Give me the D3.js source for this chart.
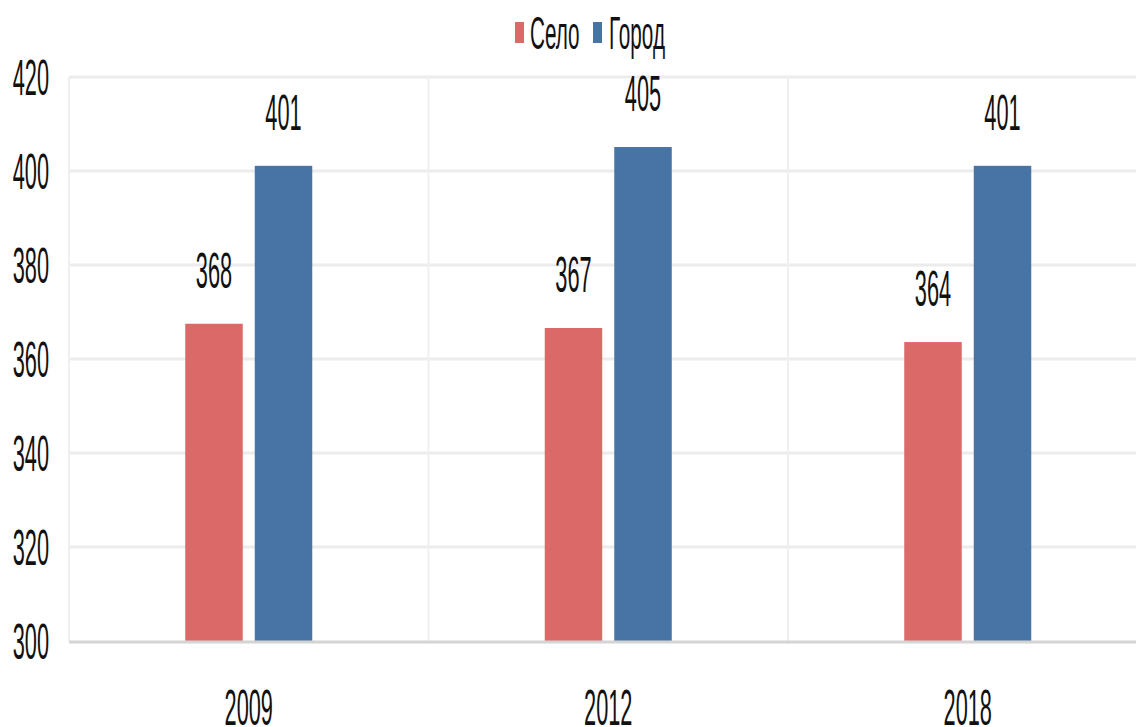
<!DOCTYPE html>
<html><head><meta charset="utf-8">
<script src="https://cdn.jsdelivr.net/npm/d3@7/dist/d3.min.js"></script>
<style>html,body{margin:0;padding:0;background:#fff;overflow:hidden}</style>
</head><body>
<svg id="c" width="1136" height="727"></svg>
<script>
const categories = ["2009", "2012", "2018"];
const seriesNames = ["Село", "Город"];
const seloValues = [367.5, 366.6, 363.6];
const gorodValues = [401.1, 405.1, 401.1];
const yTicks = [300, 320, 340, 360, 380, 400, 420];
const colors = ["#da6968", "#4873a5"];

const svg = d3.select("#c");
const SX = 0.435, FS = 50;
const fmt = d3.format(".0f");
const x0 = d3.scaleBand().domain(categories).range([69, 69 + 3 * 359.5]).padding(0);
const x1 = d3.scaleBand().domain(seriesNames).range([-63.5, 63.5]).paddingInner(0.173);
const y = d3.scaleLinear().domain([300, 420]).range([641, 77]);

function txt(g, x, yy, s, anchor, fs, sx) {
  g.append("text").attr("transform", `translate(${x},${yy}) scale(${sx || SX},1)`)
    .attr("text-anchor", anchor)
    .attr("font-family", "Liberation Sans, Arial, sans-serif")
    .attr("font-size", fs || FS).attr("fill", "#111").text(s);
}

// grid
const grid = svg.append("g");
yTicks.filter(t => t !== 300).forEach(t => {
  grid.append("line").attr("x1", 69).attr("x2", 1136).attr("y1", y(t)).attr("y2", y(t))
    .attr("stroke", "#ececec").attr("stroke-width", 3);
});
categories.forEach(c => {
  grid.append("line").attr("x1", x0(c)).attr("x2", x0(c)).attr("y1", 77).attr("y2", 641)
    .attr("stroke", "#efefef").attr("stroke-width", 2);
});

// bars
const data = categories.map((c, i) => ({ c, vals: [seloValues[i], gorodValues[i]] }));
const gBars = svg.append("g");
data.forEach(d => {
  const cx = x0(d.c) + x0.bandwidth() / 2;
  d.vals.forEach((v, j) => {
    const bx = cx + x1(seriesNames[j]);
    gBars.append("rect").attr("x", bx).attr("y", y(v)).attr("width", x1.bandwidth())
      .attr("height", y(300) - y(v)).attr("fill", colors[j]);
    txt(gBars, bx + x1.bandwidth() / 2, y(v) - 36, fmt(v), "middle");
  });
});

// baseline
svg.append("line").attr("x1", 69).attr("x2", 1136).attr("y1", 642).attr("y2", 642)
  .attr("stroke", "#d4d4d4").attr("stroke-width", 3);

// y axis labels
const gy = svg.append("g");
yTicks.forEach(t => txt(gy, 49, y(t) + 18, String(t), "end"));

// x labels
const gx = svg.append("g");
categories.forEach(c => txt(gx, x0(c) + x0.bandwidth() / 2, 725, c, "middle"));

// legend
const gl = svg.append("g");
const legendItems = [{ n: seriesNames[0], x: 515, tx: 530 }, { n: seriesNames[1], x: 593, tx: 609 }];
legendItems.forEach((it, i) => {
  gl.append("rect").attr("x", it.x).attr("y", 22).attr("width", 9).attr("height", 21).attr("fill", colors[i]);
  txt(gl, it.tx, 49, it.n, "start", 46, 0.45);
});
</script>
</body></html>
